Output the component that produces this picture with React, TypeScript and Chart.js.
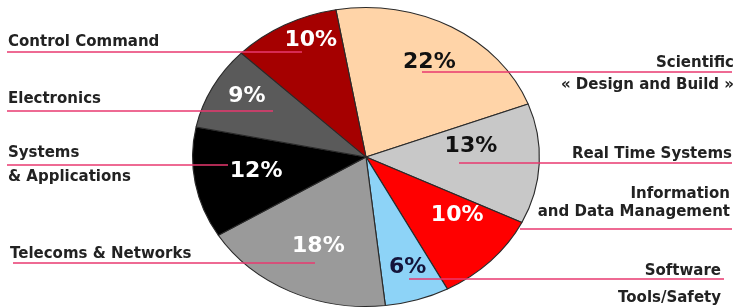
import React, { useEffect, useRef } from "react";
import { Chart, registerables } from "chart.js";

Chart.register(...registerables);

// ---- data ----
const categories = [
  "Scientific « Design and Build »",
  "Real Time Systems",
  "Information and Data Management",
  "Software Tools/Safety",
  "Telecoms & Networks",
  "Systems & Applications",
  "Electronics",
  "Control Command",
];
const shares = [22, 13, 10, 6, 18, 12, 9, 10];
const sliceColors = ["#FFD4A8", "#C8C8C8", "#FF0000", "#8DD3F7", "#9A9A9A", "#000000", "#5A5A5A", "#A50000"];
const pctColors = ["#111111", "#111111", "#FFFFFF", "#14143A", "#FFFFFF", "#FFFFFF", "#FFFFFF", "#FFFFFF"];
// label placement inside slices: radial fraction and angular nudge (deg)
const pctRadius = [0.74, 0.61, 0.65, 0.77, 0.65, 0.64, 0.8, 0.85];
const pctNudge = [0, -10, -8, -1, -1, 2, 3, 6];

// side annotations: lines of text, side, baseline ys, leader line y and extent
type Note = { lines: string[]; ys: number[]; side: "L" | "R"; x: number; lineY: number; x1: number; x2: number };
const notes: Note[] = [
  { lines: ["Control Command"], ys: [46], side: "L", x: 8, lineY: 52, x1: 7, x2: 302 },
  { lines: ["Electronics"], ys: [103], side: "L", x: 8, lineY: 111, x1: 7, x2: 273 },
  { lines: ["Systems", "& Applications"], ys: [157, 181], side: "L", x: 8, lineY: 165, x1: 7, x2: 228 },
  { lines: ["Telecoms & Networks"], ys: [258], side: "L", x: 10, lineY: 263, x1: 13, x2: 315 },
  { lines: ["Scientific", "« Design and Build »"], ys: [67, 89], side: "R", x: 734, lineY: 72, x1: 422, x2: 732 },
  { lines: ["Real Time Systems"], ys: [158], side: "R", x: 732, lineY: 163, x1: 459, x2: 732 },
  { lines: ["Information", "and Data Management"], ys: [198, 216], side: "R", x: 730, lineY: 229, x1: 520, x2: 732 },
  { lines: ["Software", "Tools/Safety"], ys: [275, 302], side: "R", x: 721, lineY: 279, x1: 409, x2: 724 },
];

const SX = 174 / 150; // horizontal stretch -> elliptical pie

const ellipsePlugin = {
  id: "ellipse",
  beforeDatasetsDraw(chart: any) {
    const arc = chart.getDatasetMeta(0).data[0];
    if (!arc) return;
    const ctx = chart.ctx;
    ctx.save();
    ctx.translate(arc.x, arc.y);
    ctx.scale(SX, 1);
    ctx.translate(-arc.x, -arc.y);
  },
  afterDatasetsDraw(chart: any) {
    const ctx = chart.ctx;
    ctx.restore();
    const meta = chart.getDatasetMeta(0);
    // leader lines and side labels
    ctx.save();
    ctx.font = "bold 15px 'DejaVu Sans'";
    ctx.fillStyle = "#222222";
    ctx.textBaseline = "alphabetic";
    notes.forEach((n) => {
      ctx.textAlign = n.side === "L" ? "left" : "right";
      n.lines.forEach((t, i) => ctx.fillText(t, n.x, n.ys[i]));
      ctx.strokeStyle = "#E8386F";
      ctx.lineWidth = 1.5;
      ctx.beginPath();
      ctx.moveTo(n.x1, n.lineY);
      ctx.lineTo(n.x2, n.lineY);
      ctx.stroke();
    });
    // percent labels
    ctx.font = "bold 22px 'DejaVu Sans'";
    ctx.textAlign = "center";
    ctx.textBaseline = "middle";
    meta.data.forEach((a: any, i: number) => {
      const mid = (a.startAngle + a.endAngle) / 2 + (pctNudge[i] * Math.PI) / 180;
      const r = a.outerRadius * pctRadius[i];
      const x = a.x + Math.cos(mid) * r * SX;
      const y = a.y + Math.sin(mid) * r;
      ctx.fillStyle = pctColors[i];
      ctx.fillText(shares[i] + "%", x, y + 1);
    });
    ctx.restore();
  },
};

export default function App() {
  const ref = useRef<HTMLCanvasElement>(null);
  useEffect(() => {
    document.body.style.margin = "0";
    const chart = new Chart(ref.current!, {
      type: "pie",
      data: {
        labels: categories,
        datasets: [
          {
            data: shares,
            backgroundColor: sliceColors,
            borderColor: "#2a2a2a",
            borderWidth: 1,
          },
        ],
      },
      options: {
        animation: false,
        responsive: false,
        rotation: -10,
        layout: { padding: { top: 7, bottom: 1, left: 216, right: 221 } },
        plugins: { legend: { display: false }, tooltip: { enabled: false } },
      },
      plugins: [ellipsePlugin],
    });
    return () => chart.destroy();
  }, []);
  return (
    <div style={{ width: 737, height: 308, background: "#fff" }}>
      <canvas ref={ref} width={737} height={308} />
    </div>
  );
}
